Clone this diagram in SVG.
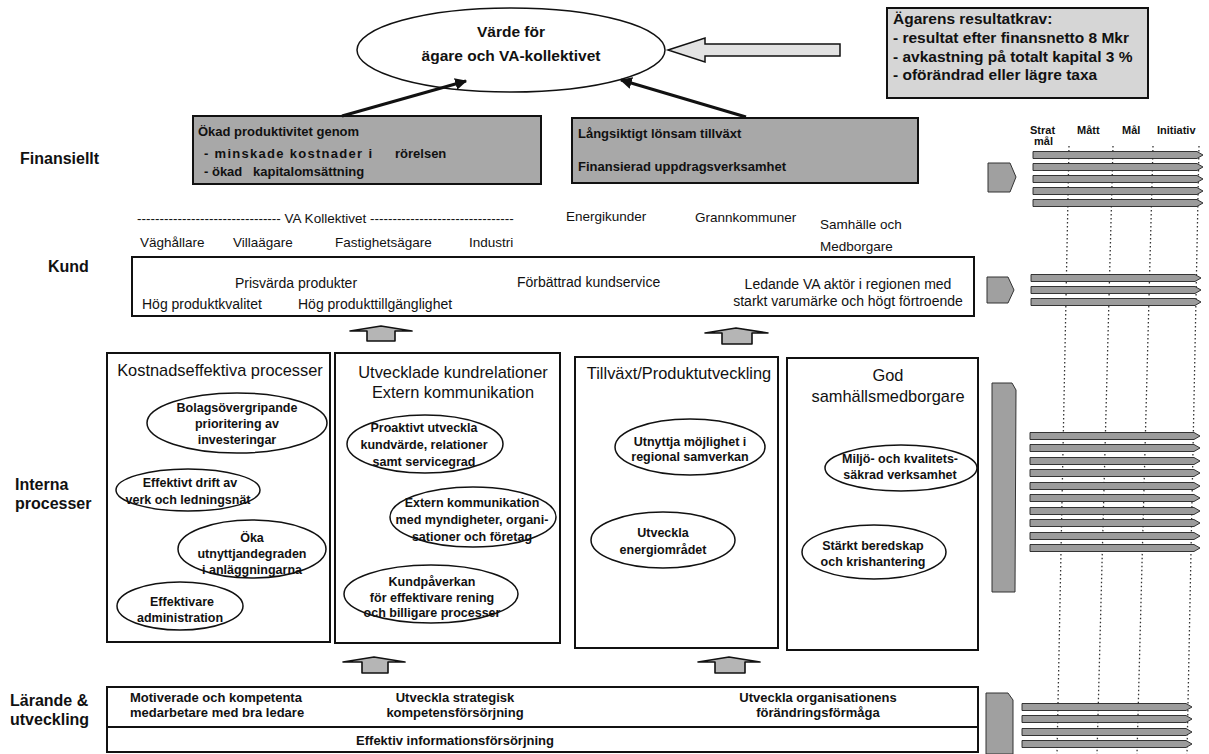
<svg xmlns="http://www.w3.org/2000/svg" width="1209" height="754" viewBox="0 0 1209 754">
<style>
text{font-family:"Liberation Sans",Arial,sans-serif;fill:#111}
.lab{font-size:16px;font-weight:bold}
.e{font-size:12.5px;font-weight:bold;text-anchor:middle}
.ttl{font-size:16.4px;text-anchor:middle}
.k{font-size:14px}
.c{font-size:13.5px}
.fin{font-size:13px;font-weight:bold}
.own{font-size:15.5px;font-weight:bold}
.hdr{font-size:11px;font-weight:bold}
.l{font-size:13px;font-weight:bold}
.mid{text-anchor:middle}
.box{fill:#fff;stroke:#111;stroke-width:2}
.ell{fill:#fff;stroke:#111;stroke-width:1.5}
.gray{fill:#a8a8a8;stroke:#111;stroke-width:2}
.bar{fill:#9c9c9c;stroke:#222;stroke-width:0.9}
.dot{stroke:#333;stroke-width:1.3;stroke-dasharray:1.5 2.5;fill:none}
.up{fill:#b5b5b5;stroke:#111;stroke-width:1.6;stroke-linejoin:round}
.pent{fill:#a0a0a0;stroke:#333;stroke-width:1}
</style>
<defs>
<marker id="ah" viewBox="0 0 10 10" refX="9" refY="5" markerWidth="4" markerHeight="4" orient="auto"><path d="M0,0 L10,5 L0,10 z" fill="#111"/></marker>
<path id="bar" d="M0,-3.5 H164 L170,0 L164,3.5 H0 Z"/>
</defs>
<rect width="1209" height="754" fill="#fff"/>

<!-- row labels -->
<g id="labels">
<text class="lab" x="20" y="164">Finansiellt</text>
<text class="lab" x="48" y="272">Kund</text>
<text class="lab" x="15" y="490">Interna</text>
<text class="lab" x="15" y="509">processer</text>
<text class="lab" x="10" y="706">Lärande &amp;</text>
<text class="lab" x="10" y="725">utveckling</text>
</g>

<!-- top ellipse -->
<g id="value">
<ellipse class="ell" cx="511" cy="50" rx="154" ry="42" stroke-width="2"/>
<text class="own mid" x="511" y="37">Värde för</text>
<text class="own mid" x="511" y="61">ägare och VA-kollektivet</text>
</g>

<g id="owner">
<rect x="887" y="8" width="261" height="90" fill="#d6d6d6" stroke="#111" stroke-width="2"/>
<text class="own" x="893" y="24">Ägarens resultatkrav:</text>
<text class="own" x="893" y="43">- resultat efter finansnetto 8 Mkr</text>
<text class="own" x="893" y="62">- avkastning på totalt kapital 3 %</text>
<text class="own" x="893" y="80">- oförändrad eller lägre taxa</text>
</g>

<g id="fin1">
<rect class="gray" x="193" y="116" width="348" height="68"/>
<text class="fin" x="198" y="136">Ökad produktivitet genom</text>
<text class="fin" x="204" y="158"><tspan textLength="168" lengthAdjust="spacing">- minskade kostnader i</tspan><tspan x="395">rörelsen</tspan></text>
<text class="fin" x="204" y="176">- ökad <tspan x="253">kapitalomsättning</tspan></text>
</g>
<g id="fin2">
<rect class="gray" x="572" y="118" width="346" height="65"/>
<text class="fin" x="578" y="138">Långsiktigt lönsam tillväxt</text>
<text class="fin" x="578" y="171">Finansierad uppdragsverksamhet</text>
</g>

<!-- customer segment labels -->
<g id="segments">
<text class="c" x="137" y="223">-------------------------------- VA Kollektivet --------------------------------</text>
<text class="c" x="140" y="247">Väghållare</text>
<text class="c" x="233" y="247">Villaägare</text>
<text class="c" x="335" y="247">Fastighetsägare</text>
<text class="c" x="469" y="247">Industri</text>
<text class="c" x="566" y="221">Energikunder</text>
<text class="c" x="695" y="222">Grannkommuner</text>
<text class="c" x="820" y="229">Samhälle och</text>
<text class="c" x="820" y="251">Medborgare</text>
</g>

<g id="kund">
<rect class="box" x="132" y="257" width="842" height="59"/>
<text class="k mid" x="296" y="288">Prisvärda produkter</text>
<text class="k" x="517" y="287">Förbättrad kundservice</text>
<text class="k mid" x="848" y="289">Ledande VA aktör i regionen med</text>
<text class="k mid" x="848" y="306">starkt varumärke och högt förtroende</text>
<text class="k" x="142" y="309">Hög produktkvalitet</text>
<text class="k" x="298" y="309">Hög produkttillgänglighet</text>
</g>

<!-- internal processes -->
<g id="procA">
<rect class="box" x="107" y="353" width="223" height="289"/>
<text class="ttl" x="220" y="376">Kostnadseffektiva processer</text>
<ellipse class="ell" cx="237" cy="423" rx="90" ry="30"/>
<text class="e" x="237" y="412">Bolagsövergripande</text>
<text class="e" x="237" y="428">prioritering av</text>
<text class="e" x="237" y="444">investeringar</text>
<ellipse class="ell" cx="188" cy="490" rx="72" ry="21"/>
<text class="e" x="190" y="487">Effektivt drift av</text>
<text class="e" x="188" y="504">verk och ledningsnät</text>
<ellipse class="ell" cx="252" cy="549" rx="74" ry="29"/>
<text class="e" x="252" y="542">Öka</text>
<text class="e" x="252" y="558">utnyttjandegraden</text>
<text class="e" x="252" y="574">i anläggningarna</text>
<ellipse class="ell" cx="180" cy="606" rx="63" ry="24"/>
<text class="e" x="182" y="606">Effektivare</text>
<text class="e" x="180" y="622">administration</text>
</g>

<g id="procB">
<rect class="box" x="335" y="353" width="225" height="290"/>
<text class="ttl" x="453" y="378">Utvecklade kundrelationer</text>
<text class="ttl" x="453" y="398">Extern kommunikation</text>
<ellipse class="ell" cx="425" cy="444" rx="78" ry="29"/>
<text class="e" x="424" y="432">Proaktivt utveckla</text>
<text class="e" x="424" y="449">kundvärde, relationer</text>
<text class="e" x="424" y="466">samt servicegrad</text>
<ellipse class="ell" cx="473" cy="517" rx="83" ry="30"/>
<text class="e" x="472" y="507">Extern kommunikation</text>
<text class="e" x="472" y="524">med myndigheter, organi-</text>
<text class="e" x="472" y="541">sationer och företag</text>
<ellipse class="ell" cx="431" cy="594" rx="87" ry="29"/>
<text class="e" x="432" y="586">Kundpåverkan</text>
<text class="e" x="432" y="602">för effektivare rening</text>
<text class="e" x="432" y="617">och billigare processer</text>
</g>

<g id="procC">
<rect class="box" x="575" y="357" width="203" height="291"/>
<text class="ttl" x="679" y="379">Tillväxt/Produktutveckling</text>
<ellipse class="ell" cx="690" cy="447" rx="75" ry="28"/>
<text class="e" x="690" y="446">Utnyttja möjlighet i</text>
<text class="e" x="690" y="461">regional samverkan</text>
<ellipse class="ell" cx="663" cy="540" rx="72" ry="28"/>
<text class="e" x="663" y="537">Utveckla</text>
<text class="e" x="663" y="554">energiområdet</text>
</g>

<g id="procD">
<rect class="box" x="787" y="358" width="191" height="292"/>
<text class="ttl" x="888" y="381">God</text>
<text class="ttl" x="888" y="402">samhällsmedborgare</text>
<ellipse class="ell" cx="901" cy="468" rx="76" ry="23"/>
<text class="e" x="900" y="463">Miljö- och kvalitets-</text>
<text class="e" x="900" y="479">säkrad verksamhet</text>
<ellipse class="ell" cx="874" cy="552" rx="72" ry="27"/>
<text class="e" x="873" y="550">Stärkt beredskap</text>
<text class="e" x="873" y="566">och krishantering</text>
</g>

<g id="learn">
<rect class="box" x="107" y="687" width="871" height="65"/>
<line x1="107" y1="727" x2="978" y2="727" stroke="#111" stroke-width="2"/>
<text class="l" x="130" y="702">Motiverade och kompetenta</text>
<text class="l" x="130" y="717">medarbetare med bra ledare</text>
<text class="l mid" x="455" y="702">Utveckla strategisk</text>
<text class="l mid" x="455" y="717">kompetensförsörjning</text>
<text class="l mid" x="818" y="702">Utveckla organisationens</text>
<text class="l mid" x="818" y="717">förändringsförmåga</text>
<text class="l mid" x="455" y="745">Effektiv informationsförsörjning</text>
</g>

<!-- right-hand scorecard columns -->
<g id="scorecard">
<text class="hdr" x="1030" y="134">Strat</text>
<text class="hdr" x="1034" y="145">mål</text>
<text class="hdr" x="1077" y="134">Mått</text>
<text class="hdr" x="1122" y="134">Mål</text>
<text class="hdr" x="1157" y="134">Initiativ</text>
<line class="dot" x1="1069" y1="146" x2="1057" y2="754"/>
<line class="dot" x1="1113" y1="146" x2="1097" y2="754"/>
<line class="dot" x1="1153" y1="146" x2="1137" y2="754"/>
<line class="dot" x1="1199" y1="146" x2="1187" y2="754"/>
<polygon class="pent" points="988,163 1010,163 1016,177 1010,192 988,192"/>
<polygon class="pent" points="987,277 1008,277 1014,290 1008,303 987,303"/>
<polygon class="pent" points="992,383 1012,383 1016,390 1015,592 992,592"/>
<polygon class="pent" points="986,693 1008,693 1013,700 1013,754 986,754"/>
<g class="bar">
<use href="#bar" x="1033" y="155"/>
<use href="#bar" x="1033" y="167"/>
<use href="#bar" x="1033" y="179"/>
<use href="#bar" x="1033" y="191"/>
<use href="#bar" x="1033" y="203"/>
<use href="#bar" x="1031" y="278"/>
<use href="#bar" x="1031" y="290"/>
<use href="#bar" x="1031" y="302"/>
<use href="#bar" x="1030" y="436"/>
<use href="#bar" x="1030" y="448"/>
<use href="#bar" x="1030" y="461"/>
<use href="#bar" x="1030" y="473"/>
<use href="#bar" x="1030" y="486"/>
<use href="#bar" x="1030" y="498"/>
<use href="#bar" x="1030" y="511"/>
<use href="#bar" x="1030" y="523"/>
<use href="#bar" x="1030" y="536"/>
<use href="#bar" x="1030" y="548"/>
<use href="#bar" x="1022" y="707"/>
<use href="#bar" x="1022" y="719"/>
<use href="#bar" x="1022" y="732"/>
<use href="#bar" x="1022" y="744"/>
</g>
</g>

<!-- connectors -->
<g id="connectors">
<line x1="342" y1="116" x2="466" y2="81" stroke="#111" stroke-width="3" marker-end="url(#ah)"/>
<line x1="746" y1="117" x2="621" y2="80" stroke="#111" stroke-width="3" marker-end="url(#ah)"/>
<polygon points="668,50 705,38 705,44 840,44 840,56 705,56 705,62" fill="#e2e2e2" stroke="#111" stroke-width="1.5"/>
<polygon class="up" points="350,331 381,326 412,331 395,331 395,341 367,341 367,331"/>
<polygon class="up" points="705,333 736,328 768,333 752,333 752,344 722,344 722,333"/>
<polygon class="up" points="343,662 374,657 405,662 388,662 388,673 362,673 362,662"/>
<polygon class="up" points="698,662 729,657 760,662 745,662 745,673 715,673 715,662"/>
</g>
</svg>
